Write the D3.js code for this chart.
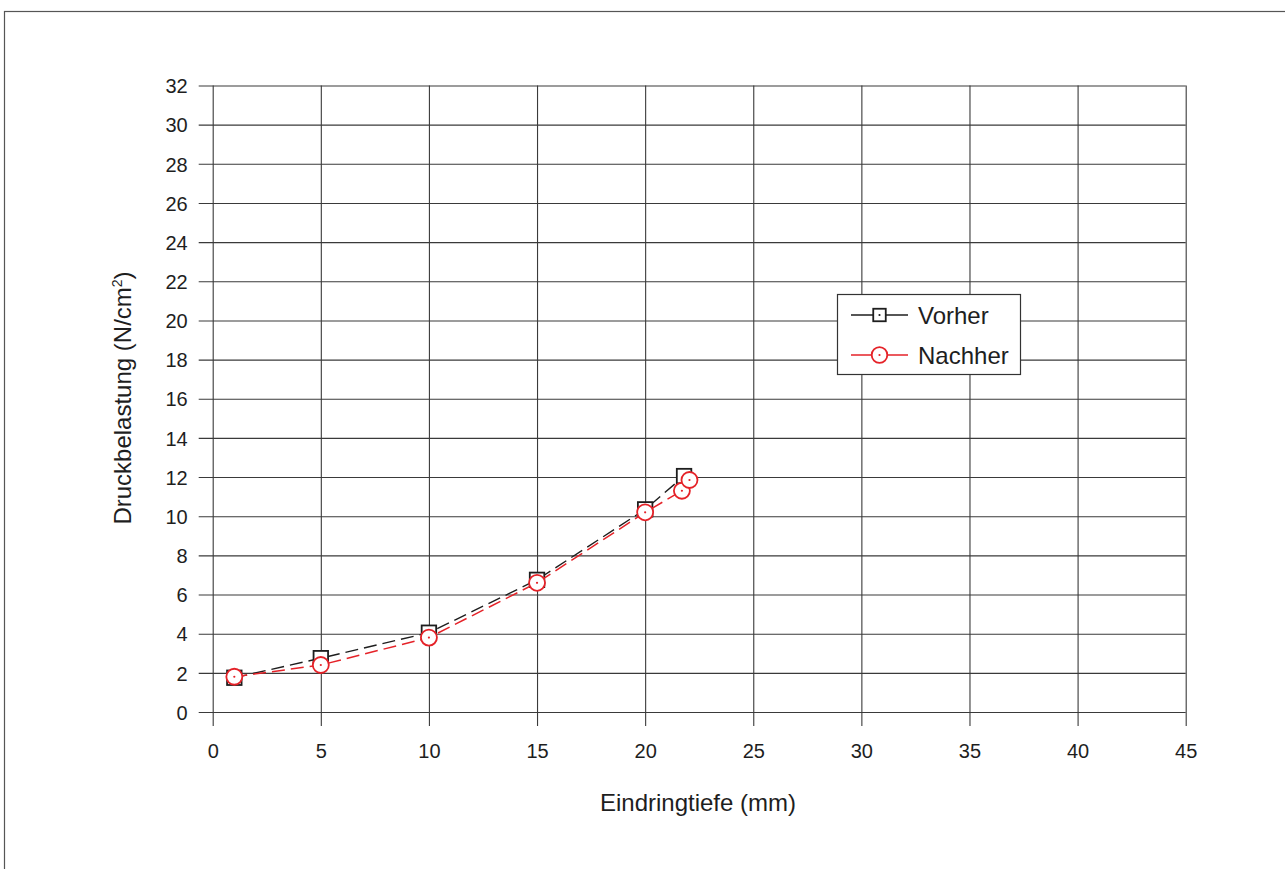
<!DOCTYPE html>
<html>
<head>
<meta charset="utf-8">
<script src="https://cdn.jsdelivr.net/npm/d3@7"></script>
<style>
  body { margin: 0; background: #fff; }
  svg { display: block; font-family: "Liberation Sans", Arial, Helvetica, sans-serif; }
</style>
</head>
<body>
<div id="chartContainer"></div>
<script>
// Werte
const vorherX = [1, 5, 10, 15, 20, 21.8];
const vorherY = [1.75, 2.75, 4.05, 6.75, 10.35, 12.05];
const nachherX = [1, 5, 10, 15, 20, 21.7, 22.05];
const nachherY = [1.8, 2.4, 3.8, 6.6, 10.2, 11.3, 11.85];
const xTicks = [0, 5, 10, 15, 20, 25, 30, 35, 40, 45];
const yTicks = [0, 2, 4, 6, 8, 10, 12, 14, 16, 18, 20, 22, 24, 26, 28, 30, 32];
const seriesNames = ['Vorher', 'Nachher'];

const red = '#e52228';
const dark = '#1e1e1e';

const svg = d3.select('#chartContainer')
  .append('svg')
  .attr('width', 1285)
  .attr('height', 869);

// outer frame (only top and left edge are inside the window)
svg.append('rect')
  .attr('x', 4.5).attr('y', 11.5)
  .attr('width', 2000).attr('height', 2000)
  .attr('fill', 'none')
  .attr('stroke', '#555')
  .attr('stroke-width', 1.2);

const x = d3.scaleLinear().domain([0, 45]).range([212.7, 1185.7]);
const y = d3.scaleLinear().domain([0, 32]).range([712, 85.5]);

// horizontal grid lines, also acting as y ticks
svg.append('g')
  .attr('transform', `translate(${x(0)},0)`)
  .call(d3.axisLeft(y).tickValues(yTicks).tickSize(-(x(45) - x(0))).tickSizeOuter(0).tickPadding(0))
  .call(g => g.select('.domain').remove())
  .call(g => g.selectAll('.tick line')
    .attr('x1', -14)
    .attr('stroke', '#3a3a3a')
    .attr('stroke-width', 1.1))
  .call(g => g.selectAll('.tick text')
    .attr('x', -25)
    .attr('dy', '0.36em')
    .attr('fill', '#1e1e1e')
    .style('font-size', '20px')
    .style('font-family', '"Liberation Sans", Arial, sans-serif'));

// vertical grid lines, also acting as x ticks
svg.append('g')
  .attr('transform', `translate(0,${y(0)})`)
  .call(d3.axisBottom(x).tickValues(xTicks).tickSize(-(y(0) - y(32))).tickSizeOuter(0))
  .call(g => g.select('.domain').remove())
  .call(g => g.selectAll('.tick line')
    .attr('y1', 14)
    .attr('stroke', '#3a3a3a')
    .attr('stroke-width', 1.1))
  .call(g => g.selectAll('.tick text')
    .attr('y', 46)
    .attr('dy', 0)
    .attr('fill', '#1e1e1e')
    .style('font-size', '20px')
    .style('font-family', '"Liberation Sans", Arial, sans-serif'));

// axis titles
svg.append('text')
  .attr('x', 698)
  .attr('y', 811)
  .attr('text-anchor', 'middle')
  .attr('fill', '#1e1e1e')
  .style('font-size', '24px')
  .text('Eindringtiefe (mm)');

const yTitle = svg.append('text')
  .attr('transform', 'translate(131,398) rotate(-90)')
  .attr('text-anchor', 'middle')
  .attr('fill', '#1e1e1e')
  .style('font-size', '24px');
yTitle.append('tspan').text('Druckbelastung (N/cm');
yTitle.append('tspan').attr('dy', -9).style('font-size', '14px').text('2');
yTitle.append('tspan').attr('dy', 9).text(')');

const line = d3.line().x(d => x(d[0])).y(d => y(d[1]));
const vorher = vorherX.map((v, i) => [v, vorherY[i]]);
const nachher = nachherX.map((v, i) => [v, nachherY[i]]);

function drawSquare(g, cx, cy, s, color) {
  g.append('rect')
    .attr('x', cx - s / 2).attr('y', cy - s / 2)
    .attr('width', s).attr('height', s)
    .attr('fill', '#fff')
    .attr('stroke', color)
    .attr('stroke-width', 1.8);
  g.append('circle').attr('cx', cx).attr('cy', cy).attr('r', 1.1).attr('fill', color);
}

function drawCircle(g, cx, cy, r, color) {
  g.append('circle')
    .attr('cx', cx).attr('cy', cy).attr('r', r)
    .attr('fill', '#fff')
    .attr('stroke', color)
    .attr('stroke-width', 1.8);
  g.append('circle').attr('cx', cx).attr('cy', cy).attr('r', 1.1).attr('fill', color);
}

// Vorher
svg.append('path')
  .datum(vorher)
  .attr('d', line)
  .attr('fill', 'none')
  .attr('stroke', dark)
  .attr('stroke-width', 1.4)
  .attr('stroke-dasharray', '13,6');
const vMarks = svg.append('g');
vorher.forEach(d => drawSquare(vMarks, x(d[0]), y(d[1]), 14.5, dark));

// Nachher
svg.append('path')
  .datum(nachher)
  .attr('d', line)
  .attr('fill', 'none')
  .attr('stroke', red)
  .attr('stroke-width', 1.5)
  .attr('stroke-dasharray', '13,6');
const nMarks = svg.append('g');
nachher.forEach(d => drawCircle(nMarks, x(d[0]), y(d[1]), 8, red));

// Legend
const legend = svg.append('g');
legend.append('rect')
  .attr('x', 837.5).attr('y', 294.5)
  .attr('width', 183).attr('height', 80)
  .attr('fill', '#fff')
  .attr('stroke', '#333')
  .attr('stroke-width', 1.2);

seriesNames.forEach((name, i) => {
  const ly = 315 + i * 40;
  const color = i === 0 ? dark : red;
  legend.append('line')
    .attr('x1', 851).attr('x2', 908)
    .attr('y1', ly).attr('y2', ly)
    .attr('stroke', color)
    .attr('stroke-width', 1.4);
  if (i === 0) drawSquare(legend, 879.5, ly, 12.5, color);
  else drawCircle(legend, 879.5, ly, 7.8, color);
  legend.append('text')
    .attr('x', 918)
    .attr('y', ly)
    .attr('dy', '0.36em')
    .attr('fill', '#1e1e1e')
    .style('font-size', '24px')
    .text(name);
});
</script>
</body>
</html>
